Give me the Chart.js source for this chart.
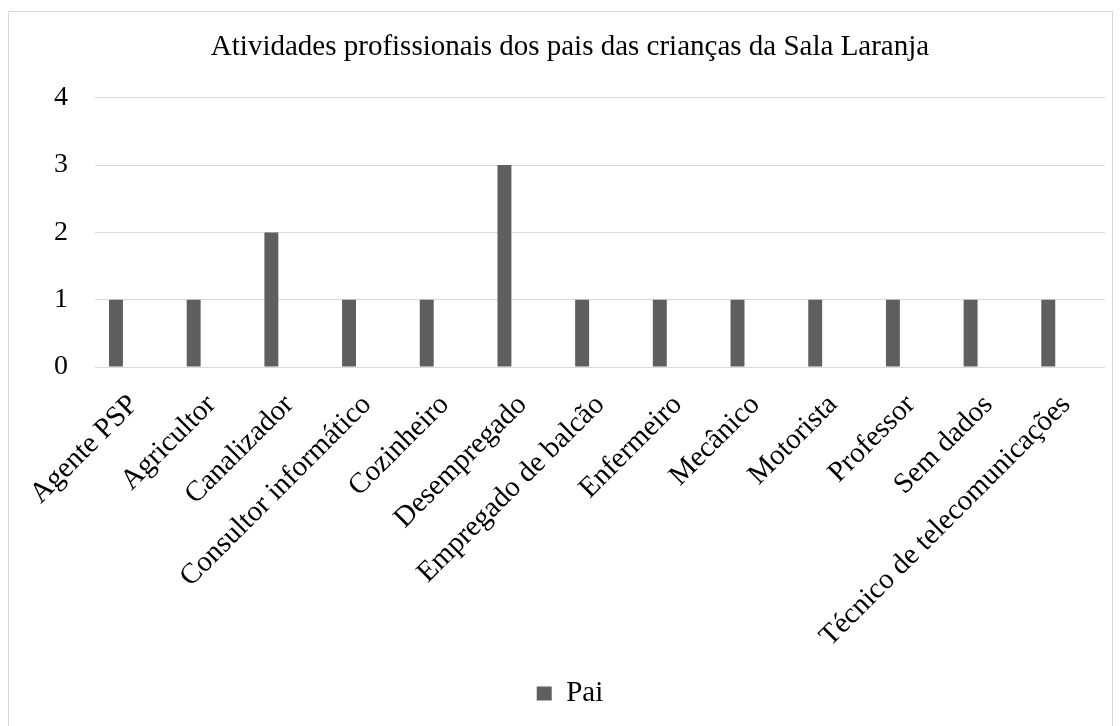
<!DOCTYPE html>
<html>
<head>
<meta charset="utf-8">
<script src="https://cdn.jsdelivr.net/npm/chart.js@4/dist/chart.umd.min.js"></script>
<style>
  html, body { margin: 0; padding: 0; background: #fff; }
  #frame {
    position: absolute; left: 8px; top: 11px;
    width: 1103px; height: 730px;
    border: 1px solid #d9d9d9;
  }
  #wrap { position: absolute; left: 0; top: 0; width: 1120px; height: 726px; }
</style>
</head>
<body>
<div id="frame"></div>
<div id="wrap"><canvas id="ProfChart"></canvas></div>
<script>
// chart data
const categories = [
    "Agente PSP", "Agricultor", "Canalizador", "Consultor informático",
    "Cozinheiro", "Desempregado", "Empregado de balcão", "Enfermeiro",
    "Mecânico", "Motorista", "Professor", "Sem dados", "Técnico de telecomunicações"
];
const paiValues = [1, 1, 2, 1, 1, 3, 1, 1, 1, 1, 1, 1, 1];
// second series of the workbook is empty, it only takes its slot next to "Pai"
const emptyValues = [null, null, null, null, null, null, null, null, null, null, null, null, null];
const yTicks = [0, 1, 2, 3, 4];

const serif = "'Liberation Serif', 'Times New Roman', serif";

const ctx = document.getElementById("ProfChart").getContext("2d");
new Chart(ctx, {
    type: "bar",
    data: {
        labels: categories,
        datasets: [
            {
                label: "Pai",
                data: paiValues,
                backgroundColor: "#5f5f5f",
                borderWidth: 0,
                categoryPercentage: 0.92,
                barPercentage: 0.39
            },
            {
                label: "",
                data: emptyValues,
                backgroundColor: "#5f5f5f",
                borderWidth: 0,
                categoryPercentage: 0.92,
                barPercentage: 0.39
            }
        ]
    },
    options: {
        responsive: true,
        maintainAspectRatio: false,
        animation: false,
        layout: { padding: { top: 11, right: 15, bottom: 8, left: 35 } },
        plugins: {
            title: {
                display: true,
                text: "Atividades profissionais dos pais das crianças da Sala Laranja",
                color: "#000",
                font: { family: serif, size: 29, weight: "normal" },
                padding: { top: 19, bottom: 33 }
            },
            legend: {
                position: "bottom",
                labels: {
                    color: "#000",
                    font: { family: serif, size: 29 },
                    boxWidth: 15,
                    boxHeight: 14,
                    padding: 10,
                    filter: (item) => item.text !== ""
                }
            },
            tooltip: { enabled: false }
        },
        scales: {
            x: {
                grid: { display: false },
                border: { display: false },
                ticks: {
                    color: "#000",
                    font: { family: serif, size: 29 },
                    minRotation: 45,
                    maxRotation: 45,
                    padding: 13,
                    autoSkip: false
                },
                afterFit: (s) => { s.height = 302; }
            },
            y: {
                min: 0,
                max: 4,
                afterBuildTicks: (s) => { s.ticks = yTicks.map(v => ({ value: v })); },
                grid: { color: "#d9d9d9", lineWidth: 1, drawTicks: false },
                border: { display: false },
                ticks: {
                    color: "#000",
                    font: { family: serif, size: 28 },
                    padding: 27
                },
                afterFit: (s) => { s.width = 60; }
            }
        }
    }
});
</script>
</body>
</html>
